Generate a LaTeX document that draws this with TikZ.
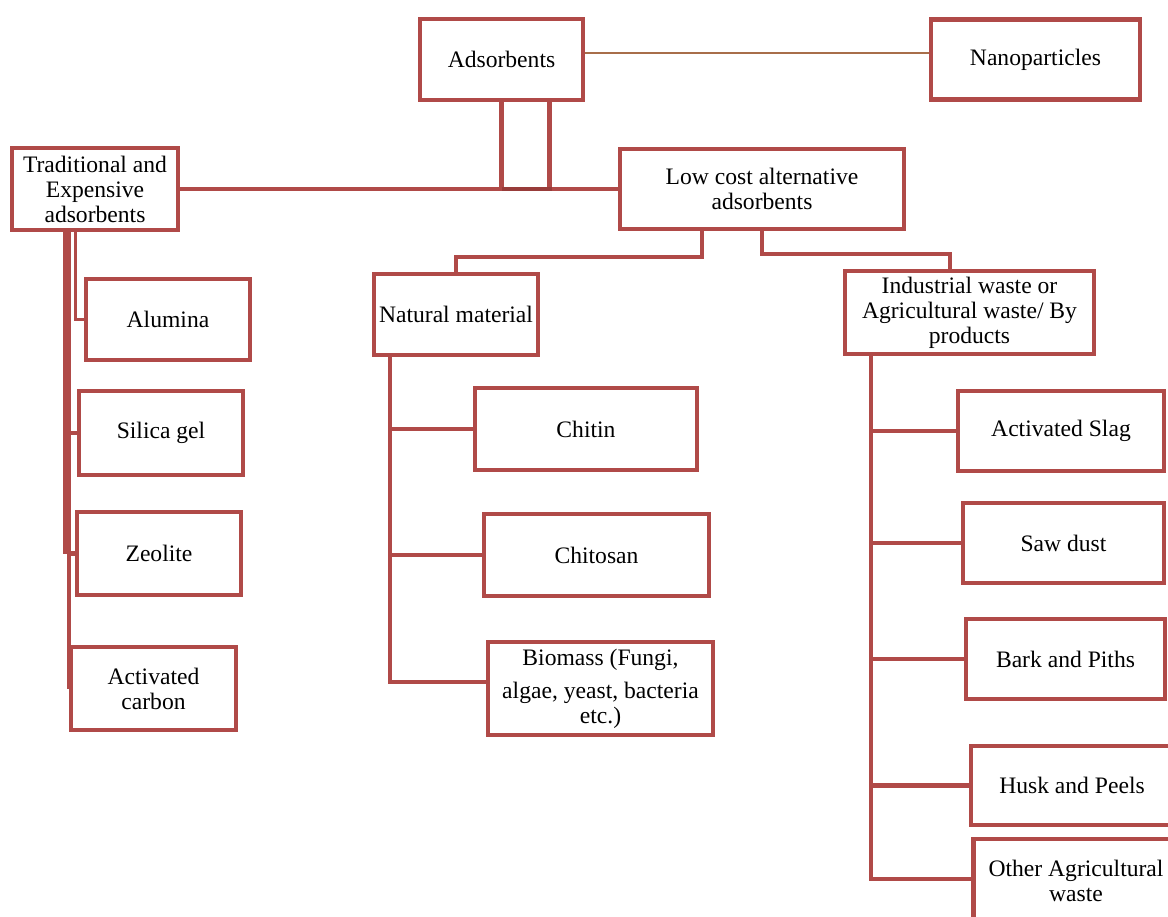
\documentclass[tikz,border=0pt]{standalone}
\usepackage{fontspec}
\setmainfont{Liberation Serif}
\definecolor{boxred}{RGB}{176,74,72}
\definecolor{joinred}{RGB}{152,60,58}
\definecolor{nanobrown}{RGB}{168,110,74}

\begin{document}
\begin{tikzpicture}[x=1pt,y=-1pt]

  \tikzset{main node/.style={rectangle, draw=boxred, line width=4.6pt,
  		text centered, align=center, inner sep=1pt,
  		font=\fontsize{23.6}{25}\selectfont}, }
  \tikzset{wh/.style 2 args={minimum width=#1pt, minimum height=#2pt}, }
  \tikzset{linea/.style={draw=boxred, line width=4.4pt}, }
\useasboundingbox (0,0) rectangle (1168,917);
\clip (0,0) rectangle (1168,917);

\node[main node, wh={163}{81}] (ads)  at (501.5,59.5) {Adsorbents};
\node[main node, wh={209}{80}] (nano) at (1035.5,59.5) {Nanoparticles};
\node[main node, wh={166}{82}] (trad) at (95,189) {Traditional and\\Expensive\\adsorbents};
\node[main node, wh={284}{80}] (low)  at (762,189) {Low cost alternative\\adsorbents};

% traditional
\node[main node, wh={164}{81}] (alum)   at (168,319.5) {Alumina};
\node[main node, wh={164}{84}] (silica) at (161,433) {Silica gel};
\node[main node, wh={164}{83}] (zeo)    at (159,553.5) {Zeolite};
\node[main node, wh={165}{83}] (carbon) at (153.5,688.5) {Activated\\carbon};

% natural
\node[main node, wh={164}{81}] (nat)      at (456,314.5) {Natural material};
\node[main node, wh={222}{82}] (chitin)   at (586,429) {Chitin};
\node[main node, wh={225}{82}] (chitosan) at (596.5,555) {Chitosan};
\node[main node, wh={225}{93}] (bio)      at (600.5,688.5) {Biomass (Fungi,\\[8pt]algae, yeast, bacteria\\etc.)};

% industrial / agricultural
\node[main node, wh={249}{83}] (ind)   at (969.5,312.5) {Industrial waste or\\Agricultural waste/ By\\products};
\node[main node, wh={206}{80}] (slag)  at (1061,431) {Activated Slag};
\node[main node, wh={201}{80}] (saw)   at (1063.5,543) {Saw dust};
\node[main node, wh={199}{80}] (bark)  at (1065.5,659) {Bark and Piths};
\node[main node, wh={202}{79}] (husk)  at (1072,785.5) {Husk and Peels};
\node[main node, wh={205}{84}] (other) at (1076,881) {Other Agricultural\\waste};

\draw[nanobrown, line width=1.5pt] ([yshift=6.5pt]ads.east) -- ([yshift=6.5pt]nano.west);

\coordinate (adsr) at ([xshift=48pt]ads.south);
\draw[linea] (ads.south) -- (ads.south |- trad.east);
\draw[linea] (adsr) -- (adsr |- trad.east);
\draw[linea] (trad.east) -- (low.west);
\draw[joinred, line width=4.4pt] (ads.south |- trad.east) -- ([xshift=2pt]adsr |- trad.east);

% left column
\coordinate (tsp) at (carbon.west |- trad.south);
\draw[linea] (tsp) -- (carbon.west);
\draw[linea] ([xshift=-4pt]tsp) -- ([xshift=-4pt]tsp |- zeo.west);
\draw[linea, line width=3.5pt] ([xshift=6.7pt]tsp) |- (alum.west);
\foreach \b in {silica,zeo}
  \draw[linea] (\b.west) -- (\b.west -| tsp);

% low cost branches
\draw[linea] ([xshift=-60pt]low.south) -- ++(0,26) -| (nat.north);
\draw[linea] (low.south) -- ++(0,23) -| ([xshift=-19.5pt]ind.north);

% natural column
\coordinate (nsp) at ([xshift=-66pt]nat.south);
\draw[linea] (nsp) |- ([yshift=6.5pt]bio.west);
\foreach \b in {chitin,chitosan}
  \draw[linea] (\b.west) -- (\b.west -| nsp);

% industrial column
\coordinate (isp) at ([xshift=-98.5pt]ind.south);
\draw[linea] (isp) |- ([yshift=2pt]other.west);
\foreach \b in {slag,saw,bark,husk}
  \draw[linea] (\b.west) -- (\b.west -| isp);
%%
\end{tikzpicture}
\end{document}
